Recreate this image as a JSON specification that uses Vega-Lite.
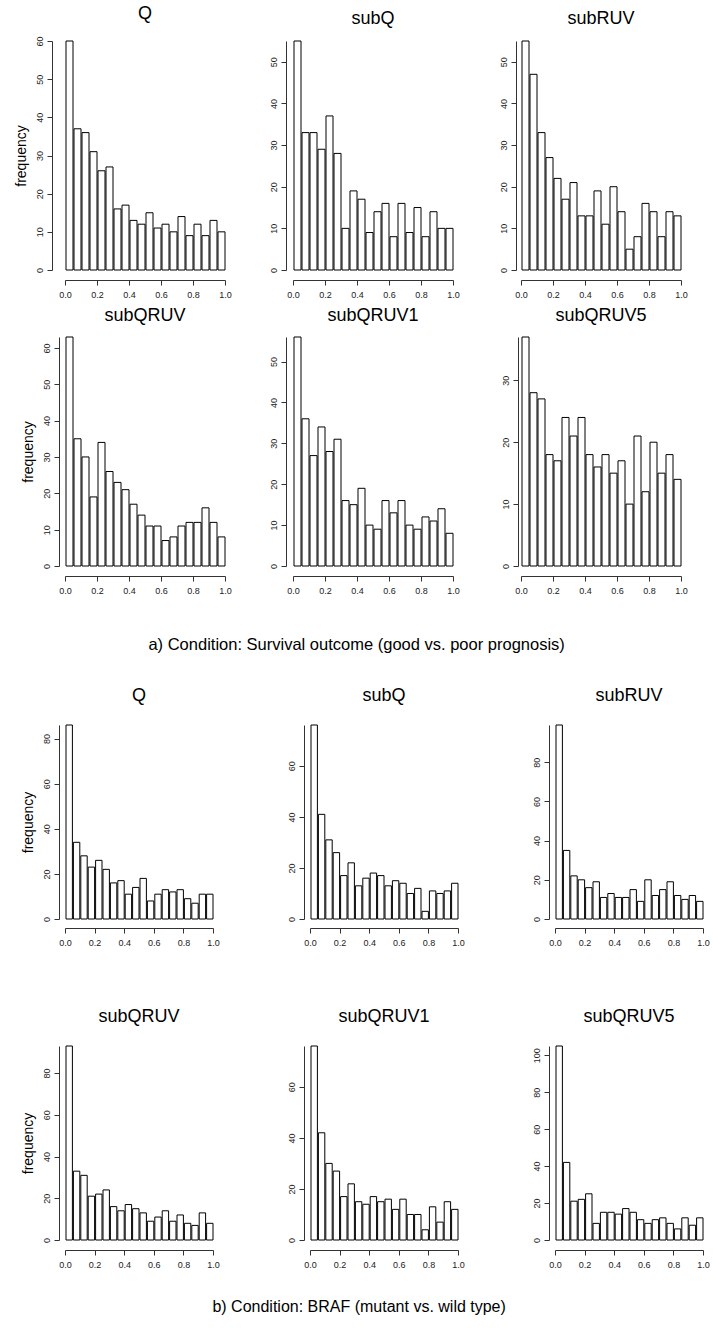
{
  "$schema": "https://vega.github.io/schema/vega-lite/v6.json",
  "background": "white",
  "padding": {"left": 14, "top": 4, "right": 0, "bottom": 10},
  "config": {
    "view": {"stroke": null},
    "font": "Liberation Sans",
    "axis": {"grid": false, "domainColor": "#333", "tickColor": "#333", "labelColor": "#222", "labelFontSize": 9, "labelFont": "Liberation Sans", "tickSize": 5, "labelFlush": false, "labelOverlap": false, "titleFont": "Liberation Sans", "titleFontWeight": "normal", "titleColor": "black", "titleFontSize": 14},
    "axisX": {"labelAngle": 0, "labelPadding": 5},
    "axisY": {"labelAngle": -90, "labelAlign": "center", "labelBaseline": "bottom", "labelPadding": 3, "titlePadding": 7},
    "title": {"fontSize": 18, "fontWeight": "normal", "font": "Liberation Sans", "color": "black", "frame": "group", "anchor": "middle", "baseline": "alphabetic", "offset": 12},
    "bar": {"fill": "white", "stroke": "black", "strokeWidth": 1}
  },
  "datasets": {
    "aQ": [{"lo":0,"hi":0.05,"n":60},{"lo":0.05,"hi":0.1,"n":37},{"lo":0.1,"hi":0.15,"n":36},{"lo":0.15,"hi":0.2,"n":31},{"lo":0.2,"hi":0.25,"n":26},{"lo":0.25,"hi":0.3,"n":27},{"lo":0.3,"hi":0.35,"n":16},{"lo":0.35,"hi":0.4,"n":17},{"lo":0.4,"hi":0.45,"n":13},{"lo":0.45,"hi":0.5,"n":12},{"lo":0.5,"hi":0.55,"n":15},{"lo":0.55,"hi":0.6,"n":11},{"lo":0.6,"hi":0.65,"n":12},{"lo":0.65,"hi":0.7,"n":10},{"lo":0.7,"hi":0.75,"n":14},{"lo":0.75,"hi":0.8,"n":9},{"lo":0.8,"hi":0.85,"n":12},{"lo":0.85,"hi":0.9,"n":9},{"lo":0.9,"hi":0.95,"n":13},{"lo":0.95,"hi":1,"n":10}],
    "aSubQ": [{"lo":0,"hi":0.05,"n":55},{"lo":0.05,"hi":0.1,"n":33},{"lo":0.1,"hi":0.15,"n":33},{"lo":0.15,"hi":0.2,"n":29},{"lo":0.2,"hi":0.25,"n":37},{"lo":0.25,"hi":0.3,"n":28},{"lo":0.3,"hi":0.35,"n":10},{"lo":0.35,"hi":0.4,"n":19},{"lo":0.4,"hi":0.45,"n":17},{"lo":0.45,"hi":0.5,"n":9},{"lo":0.5,"hi":0.55,"n":14},{"lo":0.55,"hi":0.6,"n":16},{"lo":0.6,"hi":0.65,"n":8},{"lo":0.65,"hi":0.7,"n":16},{"lo":0.7,"hi":0.75,"n":9},{"lo":0.75,"hi":0.8,"n":15},{"lo":0.8,"hi":0.85,"n":8},{"lo":0.85,"hi":0.9,"n":14},{"lo":0.9,"hi":0.95,"n":10},{"lo":0.95,"hi":1,"n":10}],
    "aSubRUV": [{"lo":0,"hi":0.05,"n":55},{"lo":0.05,"hi":0.1,"n":47},{"lo":0.1,"hi":0.15,"n":33},{"lo":0.15,"hi":0.2,"n":27},{"lo":0.2,"hi":0.25,"n":22},{"lo":0.25,"hi":0.3,"n":17},{"lo":0.3,"hi":0.35,"n":21},{"lo":0.35,"hi":0.4,"n":13},{"lo":0.4,"hi":0.45,"n":13},{"lo":0.45,"hi":0.5,"n":19},{"lo":0.5,"hi":0.55,"n":11},{"lo":0.55,"hi":0.6,"n":20},{"lo":0.6,"hi":0.65,"n":14},{"lo":0.65,"hi":0.7,"n":5},{"lo":0.7,"hi":0.75,"n":8},{"lo":0.75,"hi":0.8,"n":16},{"lo":0.8,"hi":0.85,"n":14},{"lo":0.85,"hi":0.9,"n":8},{"lo":0.9,"hi":0.95,"n":14},{"lo":0.95,"hi":1,"n":13}],
    "aSubQRUV": [{"lo":0,"hi":0.05,"n":63},{"lo":0.05,"hi":0.1,"n":35},{"lo":0.1,"hi":0.15,"n":30},{"lo":0.15,"hi":0.2,"n":19},{"lo":0.2,"hi":0.25,"n":34},{"lo":0.25,"hi":0.3,"n":26},{"lo":0.3,"hi":0.35,"n":23},{"lo":0.35,"hi":0.4,"n":21},{"lo":0.4,"hi":0.45,"n":17},{"lo":0.45,"hi":0.5,"n":14},{"lo":0.5,"hi":0.55,"n":11},{"lo":0.55,"hi":0.6,"n":11},{"lo":0.6,"hi":0.65,"n":7},{"lo":0.65,"hi":0.7,"n":8},{"lo":0.7,"hi":0.75,"n":11},{"lo":0.75,"hi":0.8,"n":12},{"lo":0.8,"hi":0.85,"n":12},{"lo":0.85,"hi":0.9,"n":16},{"lo":0.9,"hi":0.95,"n":12},{"lo":0.95,"hi":1,"n":8}],
    "aSubQRUV1": [{"lo":0,"hi":0.05,"n":56},{"lo":0.05,"hi":0.1,"n":36},{"lo":0.1,"hi":0.15,"n":27},{"lo":0.15,"hi":0.2,"n":34},{"lo":0.2,"hi":0.25,"n":28},{"lo":0.25,"hi":0.3,"n":31},{"lo":0.3,"hi":0.35,"n":16},{"lo":0.35,"hi":0.4,"n":15},{"lo":0.4,"hi":0.45,"n":19},{"lo":0.45,"hi":0.5,"n":10},{"lo":0.5,"hi":0.55,"n":9},{"lo":0.55,"hi":0.6,"n":16},{"lo":0.6,"hi":0.65,"n":13},{"lo":0.65,"hi":0.7,"n":16},{"lo":0.7,"hi":0.75,"n":10},{"lo":0.75,"hi":0.8,"n":9},{"lo":0.8,"hi":0.85,"n":12},{"lo":0.85,"hi":0.9,"n":11},{"lo":0.9,"hi":0.95,"n":14},{"lo":0.95,"hi":1,"n":8}],
    "aSubQRUV5": [{"lo":0,"hi":0.05,"n":37},{"lo":0.05,"hi":0.1,"n":28},{"lo":0.1,"hi":0.15,"n":27},{"lo":0.15,"hi":0.2,"n":18},{"lo":0.2,"hi":0.25,"n":17},{"lo":0.25,"hi":0.3,"n":24},{"lo":0.3,"hi":0.35,"n":21},{"lo":0.35,"hi":0.4,"n":24},{"lo":0.4,"hi":0.45,"n":18},{"lo":0.45,"hi":0.5,"n":16},{"lo":0.5,"hi":0.55,"n":18},{"lo":0.55,"hi":0.6,"n":15},{"lo":0.6,"hi":0.65,"n":17},{"lo":0.65,"hi":0.7,"n":10},{"lo":0.7,"hi":0.75,"n":21},{"lo":0.75,"hi":0.8,"n":12},{"lo":0.8,"hi":0.85,"n":20},{"lo":0.85,"hi":0.9,"n":15},{"lo":0.9,"hi":0.95,"n":18},{"lo":0.95,"hi":1,"n":14}],
    "bQ": [{"lo":0,"hi":0.05,"n":86},{"lo":0.05,"hi":0.1,"n":34},{"lo":0.1,"hi":0.15,"n":28},{"lo":0.15,"hi":0.2,"n":23},{"lo":0.2,"hi":0.25,"n":26},{"lo":0.25,"hi":0.3,"n":22},{"lo":0.3,"hi":0.35,"n":16},{"lo":0.35,"hi":0.4,"n":17},{"lo":0.4,"hi":0.45,"n":11},{"lo":0.45,"hi":0.5,"n":14},{"lo":0.5,"hi":0.55,"n":18},{"lo":0.55,"hi":0.6,"n":8},{"lo":0.6,"hi":0.65,"n":11},{"lo":0.65,"hi":0.7,"n":13},{"lo":0.7,"hi":0.75,"n":12},{"lo":0.75,"hi":0.8,"n":13},{"lo":0.8,"hi":0.85,"n":9},{"lo":0.85,"hi":0.9,"n":7},{"lo":0.9,"hi":0.95,"n":11},{"lo":0.95,"hi":1,"n":11}],
    "bSubQ": [{"lo":0,"hi":0.05,"n":76},{"lo":0.05,"hi":0.1,"n":41},{"lo":0.1,"hi":0.15,"n":31},{"lo":0.15,"hi":0.2,"n":26},{"lo":0.2,"hi":0.25,"n":17},{"lo":0.25,"hi":0.3,"n":22},{"lo":0.3,"hi":0.35,"n":13},{"lo":0.35,"hi":0.4,"n":16},{"lo":0.4,"hi":0.45,"n":18},{"lo":0.45,"hi":0.5,"n":17},{"lo":0.5,"hi":0.55,"n":13},{"lo":0.55,"hi":0.6,"n":15},{"lo":0.6,"hi":0.65,"n":14},{"lo":0.65,"hi":0.7,"n":10},{"lo":0.7,"hi":0.75,"n":12},{"lo":0.75,"hi":0.8,"n":3},{"lo":0.8,"hi":0.85,"n":11},{"lo":0.85,"hi":0.9,"n":10},{"lo":0.9,"hi":0.95,"n":11},{"lo":0.95,"hi":1,"n":14}],
    "bSubRUV": [{"lo":0,"hi":0.05,"n":99},{"lo":0.05,"hi":0.1,"n":35},{"lo":0.1,"hi":0.15,"n":22},{"lo":0.15,"hi":0.2,"n":20},{"lo":0.2,"hi":0.25,"n":16},{"lo":0.25,"hi":0.3,"n":19},{"lo":0.3,"hi":0.35,"n":11},{"lo":0.35,"hi":0.4,"n":13},{"lo":0.4,"hi":0.45,"n":11},{"lo":0.45,"hi":0.5,"n":11},{"lo":0.5,"hi":0.55,"n":15},{"lo":0.55,"hi":0.6,"n":9},{"lo":0.6,"hi":0.65,"n":20},{"lo":0.65,"hi":0.7,"n":12},{"lo":0.7,"hi":0.75,"n":15},{"lo":0.75,"hi":0.8,"n":19},{"lo":0.8,"hi":0.85,"n":12},{"lo":0.85,"hi":0.9,"n":10},{"lo":0.9,"hi":0.95,"n":12},{"lo":0.95,"hi":1,"n":9}],
    "bSubQRUV": [{"lo":0,"hi":0.05,"n":93},{"lo":0.05,"hi":0.1,"n":33},{"lo":0.1,"hi":0.15,"n":31},{"lo":0.15,"hi":0.2,"n":21},{"lo":0.2,"hi":0.25,"n":22},{"lo":0.25,"hi":0.3,"n":24},{"lo":0.3,"hi":0.35,"n":16},{"lo":0.35,"hi":0.4,"n":14},{"lo":0.4,"hi":0.45,"n":17},{"lo":0.45,"hi":0.5,"n":15},{"lo":0.5,"hi":0.55,"n":13},{"lo":0.55,"hi":0.6,"n":9},{"lo":0.6,"hi":0.65,"n":11},{"lo":0.65,"hi":0.7,"n":14},{"lo":0.7,"hi":0.75,"n":9},{"lo":0.75,"hi":0.8,"n":12},{"lo":0.8,"hi":0.85,"n":8},{"lo":0.85,"hi":0.9,"n":7},{"lo":0.9,"hi":0.95,"n":13},{"lo":0.95,"hi":1,"n":8}],
    "bSubQRUV1": [{"lo":0,"hi":0.05,"n":76},{"lo":0.05,"hi":0.1,"n":42},{"lo":0.1,"hi":0.15,"n":30},{"lo":0.15,"hi":0.2,"n":27},{"lo":0.2,"hi":0.25,"n":17},{"lo":0.25,"hi":0.3,"n":22},{"lo":0.3,"hi":0.35,"n":15},{"lo":0.35,"hi":0.4,"n":14},{"lo":0.4,"hi":0.45,"n":17},{"lo":0.45,"hi":0.5,"n":15},{"lo":0.5,"hi":0.55,"n":16},{"lo":0.55,"hi":0.6,"n":12},{"lo":0.6,"hi":0.65,"n":16},{"lo":0.65,"hi":0.7,"n":10},{"lo":0.7,"hi":0.75,"n":10},{"lo":0.75,"hi":0.8,"n":4},{"lo":0.8,"hi":0.85,"n":13},{"lo":0.85,"hi":0.9,"n":7},{"lo":0.9,"hi":0.95,"n":15},{"lo":0.95,"hi":1,"n":12}],
    "bSubQRUV5": [{"lo":0,"hi":0.05,"n":105},{"lo":0.05,"hi":0.1,"n":42},{"lo":0.1,"hi":0.15,"n":21},{"lo":0.15,"hi":0.2,"n":22},{"lo":0.2,"hi":0.25,"n":25},{"lo":0.25,"hi":0.3,"n":9},{"lo":0.3,"hi":0.35,"n":15},{"lo":0.35,"hi":0.4,"n":15},{"lo":0.4,"hi":0.45,"n":14},{"lo":0.45,"hi":0.5,"n":17},{"lo":0.5,"hi":0.55,"n":15},{"lo":0.55,"hi":0.6,"n":11},{"lo":0.6,"hi":0.65,"n":9},{"lo":0.65,"hi":0.7,"n":11},{"lo":0.7,"hi":0.75,"n":12},{"lo":0.75,"hi":0.8,"n":9},{"lo":0.8,"hi":0.85,"n":6},{"lo":0.85,"hi":0.9,"n":12},{"lo":0.9,"hi":0.95,"n":8},{"lo":0.95,"hi":1,"n":12}]
  },
  "vconcat": [
    {
      "spacing": 7,
      "title": {"text": "a) Condition: Survival outcome (good vs. poor prognosis)", "orient": "bottom", "frame": "bounds", "fontSize": 16.5, "baseline": "top", "offset": 42, "dx": 6},
      "vconcat": [
        {
          "bounds": "flush",
          "spacing": 68,
          "hconcat": [
            {"title": {"text": "Q", "offset": 13}, "width": 160, "height": 229, "data": {"name": "aQ"}, "mark": "bar",
             "encoding": {"x": {"field": "lo", "type": "quantitative", "bin": "binned", "title": null, "scale": {"domain": [0, 1]}, "axis": {"values": [0, 0.2, 0.4, 0.6, 0.8, 1], "format": ".1f", "offset": 10}},
                          "x2": {"field": "hi"},
                          "y": {"field": "n", "type": "quantitative", "title": "frequency", "scale": {"domain": [0, 60], "nice": false}, "axis": {"values": [0, 10, 20, 30, 40, 50, 60], "offset": 13}}}},
            {"title": {"text": "subQ", "offset": 13}, "width": 160, "height": 229, "data": {"name": "aSubQ"}, "mark": "bar",
             "encoding": {"x": {"field": "lo", "type": "quantitative", "bin": "binned", "title": null, "scale": {"domain": [0, 1]}, "axis": {"values": [0, 0.2, 0.4, 0.6, 0.8, 1], "format": ".1f", "offset": 10}},
                          "x2": {"field": "hi"},
                          "y": {"field": "n", "type": "quantitative", "title": null, "scale": {"domain": [0, 55], "nice": false}, "axis": {"values": [0, 10, 20, 30, 40, 50], "offset": 7}}}},
            {"title": {"text": "subRUV", "offset": 13}, "width": 160, "height": 229, "data": {"name": "aSubRUV"}, "mark": "bar",
             "encoding": {"x": {"field": "lo", "type": "quantitative", "bin": "binned", "title": null, "scale": {"domain": [0, 1]}, "axis": {"values": [0, 0.2, 0.4, 0.6, 0.8, 1], "format": ".1f", "offset": 10}},
                          "x2": {"field": "hi"},
                          "y": {"field": "n", "type": "quantitative", "title": null, "scale": {"domain": [0, 55], "nice": false}, "axis": {"values": [0, 10, 20, 30, 40, 50], "offset": 5}}}}
          ]
        },
        {
          "bounds": "flush",
          "spacing": 68,
          "hconcat": [
            {"title": "subQRUV", "width": 160, "height": 229, "data": {"name": "aSubQRUV"}, "mark": "bar",
             "encoding": {"x": {"field": "lo", "type": "quantitative", "bin": "binned", "title": null, "scale": {"domain": [0, 1]}, "axis": {"values": [0, 0.2, 0.4, 0.6, 0.8, 1], "format": ".1f", "offset": 10}},
                          "x2": {"field": "hi"},
                          "y": {"field": "n", "type": "quantitative", "title": "frequency", "scale": {"domain": [0, 63], "nice": false}, "axis": {"values": [0, 10, 20, 30, 40, 50, 60], "offset": 6}}}},
            {"title": "subQRUV1", "width": 160, "height": 229, "data": {"name": "aSubQRUV1"}, "mark": "bar",
             "encoding": {"x": {"field": "lo", "type": "quantitative", "bin": "binned", "title": null, "scale": {"domain": [0, 1]}, "axis": {"values": [0, 0.2, 0.4, 0.6, 0.8, 1], "format": ".1f", "offset": 10}},
                          "x2": {"field": "hi"},
                          "y": {"field": "n", "type": "quantitative", "title": null, "scale": {"domain": [0, 56], "nice": false}, "axis": {"values": [0, 10, 20, 30, 40, 50], "offset": 7}}}},
            {"title": "subQRUV5", "width": 160, "height": 229, "data": {"name": "aSubQRUV5"}, "mark": "bar",
             "encoding": {"x": {"field": "lo", "type": "quantitative", "bin": "binned", "title": null, "scale": {"domain": [0, 1]}, "axis": {"values": [0, 0.2, 0.4, 0.6, 0.8, 1], "format": ".1f", "offset": 10}},
                          "x2": {"field": "hi"},
                          "y": {"field": "n", "type": "quantitative", "title": null, "scale": {"domain": [0, 37], "nice": false}, "axis": {"values": [0, 10, 20, 30], "offset": 3}}}}
          ]
        }
      ]
    },
    {
      "spacing": 60,
      "title": {"text": "b) Condition: BRAF (mutant vs. wild type)", "orient": "bottom", "frame": "bounds", "fontSize": 16, "baseline": "top", "offset": 30, "dx": -6},
      "vconcat": [
        {
          "bounds": "flush",
          "spacing": 97,
          "hconcat": [
            {"title": {"text": "Q", "offset": 20}, "width": 148, "height": 194, "data": {"name": "bQ"}, "mark": "bar",
             "encoding": {"x": {"field": "lo", "type": "quantitative", "bin": "binned", "title": null, "scale": {"domain": [0, 1]}, "axis": {"values": [0, 0.2, 0.4, 0.6, 0.8, 1], "format": ".1f", "offset": 9}},
                          "x2": {"field": "hi"},
                          "y": {"field": "n", "type": "quantitative", "title": "frequency", "scale": {"domain": [0, 86], "nice": false}, "axis": {"values": [0, 20, 40, 60, 80], "offset": 6}}}},
            {"title": {"text": "subQ", "offset": 20}, "width": 148, "height": 194, "data": {"name": "bSubQ"}, "mark": "bar",
             "encoding": {"x": {"field": "lo", "type": "quantitative", "bin": "binned", "title": null, "scale": {"domain": [0, 1]}, "axis": {"values": [0, 0.2, 0.4, 0.6, 0.8, 1], "format": ".1f", "offset": 9}},
                          "x2": {"field": "hi"},
                          "y": {"field": "n", "type": "quantitative", "title": null, "scale": {"domain": [0, 76], "nice": false}, "axis": {"values": [0, 20, 40, 60], "offset": 6}}}},
            {"title": {"text": "subRUV", "offset": 20}, "width": 148, "height": 194, "data": {"name": "bSubRUV"}, "mark": "bar",
             "encoding": {"x": {"field": "lo", "type": "quantitative", "bin": "binned", "title": null, "scale": {"domain": [0, 1]}, "axis": {"values": [0, 0.2, 0.4, 0.6, 0.8, 1], "format": ".1f", "offset": 9}},
                          "x2": {"field": "hi"},
                          "y": {"field": "n", "type": "quantitative", "title": null, "scale": {"domain": [0, 99], "nice": false}, "axis": {"values": [0, 20, 40, 60, 80], "offset": 6}}}}
          ]
        },
        {
          "bounds": "flush",
          "spacing": 97,
          "hconcat": [
            {"title": {"text": "subQRUV", "offset": 20}, "width": 148, "height": 194, "data": {"name": "bSubQRUV"}, "mark": "bar",
             "encoding": {"x": {"field": "lo", "type": "quantitative", "bin": "binned", "title": null, "scale": {"domain": [0, 1]}, "axis": {"values": [0, 0.2, 0.4, 0.6, 0.8, 1], "format": ".1f", "offset": 10}},
                          "x2": {"field": "hi"},
                          "y": {"field": "n", "type": "quantitative", "title": "frequency", "scale": {"domain": [0, 93], "nice": false}, "axis": {"values": [0, 20, 40, 60, 80], "offset": 6}}}},
            {"title": {"text": "subQRUV1", "offset": 20}, "width": 148, "height": 194, "data": {"name": "bSubQRUV1"}, "mark": "bar",
             "encoding": {"x": {"field": "lo", "type": "quantitative", "bin": "binned", "title": null, "scale": {"domain": [0, 1]}, "axis": {"values": [0, 0.2, 0.4, 0.6, 0.8, 1], "format": ".1f", "offset": 10}},
                          "x2": {"field": "hi"},
                          "y": {"field": "n", "type": "quantitative", "title": null, "scale": {"domain": [0, 76], "nice": false}, "axis": {"values": [0, 20, 40, 60], "offset": 6}}}},
            {"title": {"text": "subQRUV5", "offset": 20}, "width": 148, "height": 194, "data": {"name": "bSubQRUV5"}, "mark": "bar",
             "encoding": {"x": {"field": "lo", "type": "quantitative", "bin": "binned", "title": null, "scale": {"domain": [0, 1]}, "axis": {"values": [0, 0.2, 0.4, 0.6, 0.8, 1], "format": ".1f", "offset": 10}},
                          "x2": {"field": "hi"},
                          "y": {"field": "n", "type": "quantitative", "title": null, "scale": {"domain": [0, 105], "nice": false}, "axis": {"values": [0, 20, 40, 60, 80, 100], "offset": 6}}}}
          ]
        }
      ]
    }
  ],
  "spacing": 32
}
